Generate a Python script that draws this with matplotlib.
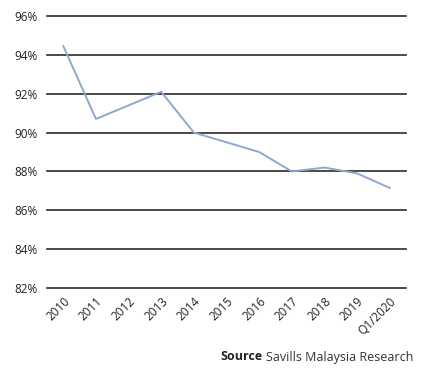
import matplotlib
matplotlib.use("Agg")
import matplotlib.pyplot as plt
from matplotlib.ticker import FuncFormatter

categories = ["2010", "2011", "2012", "2013", "2014", "2015", "2016", "2017", "2018", "2019", "Q1/2020"]
values = [94.45, 90.7, 91.4, 92.1, 90.0, 89.5, 89.0, 88.0, 88.2, 87.9, 87.15]
yticks = [82, 84, 86, 88, 90, 92, 94, 96]

plt.rcParams['font.family'] = ['Open Sans', 'DejaVu Sans']

fig = plt.figure(figsize=(4.25, 3.7), dpi=100)
ax = fig.add_axes([47/425, 1-288/370, (406-47)/425, (288-16)/370])

x = list(range(len(categories)))
ax.plot(x, values, color="#8EA9CB", lw=1.4, zorder=3)

ax.set_ylim(82, 96)
ax.set_xlim(-0.5, len(categories)-0.5)
ax.set_yticks(yticks)
ax.yaxis.set_major_formatter(FuncFormatter(lambda v, p: f"{v:.0f}%"))
for yv in yticks:
    ax.axhline(yv, color="#2b2b2b", lw=1.2, zorder=1, clip_on=False)

ax.set_xticks(x)
ax.set_xticklabels(categories, rotation=45, ha="right", rotation_mode="anchor")
ax.tick_params(axis="both", length=0, labelsize=8.5, colors="#222222")
ax.tick_params(axis="x", pad=5)
ax.tick_params(axis="y", pad=7)
for s in ax.spines.values():
    s.set_visible(False)

t1 = fig.text(413/425, 1-357/370, "Savills Malaysia Research", ha="right", va="center",
              fontsize=9, color="#333333")
fig.canvas.draw()
bb = t1.get_window_extent()
fig.text(bb.x0 - 3, bb.y0 + bb.height/2, "Source", ha="right", va="center",
         fontsize=9, fontweight="bold", color="#222222", transform=None)

fig.savefig("out.png", dpi=100)
